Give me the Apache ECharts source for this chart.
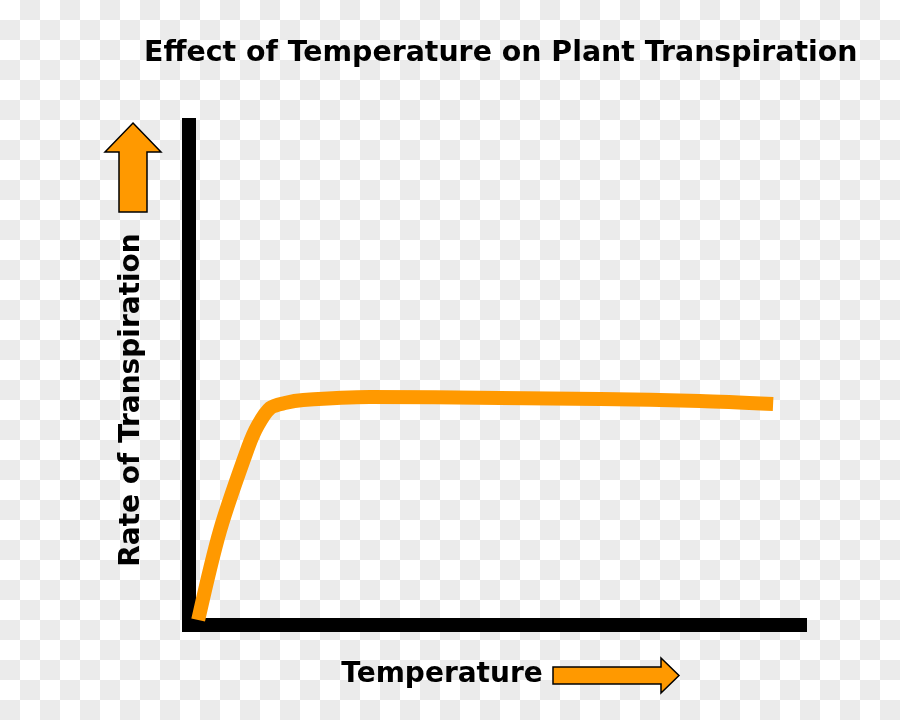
<!DOCTYPE html>
<html><head><meta charset="utf-8">
<script src="https://cdn.jsdelivr.net/npm/echarts@6/dist/echarts.min.js"></script>
<style>html,body{margin:0;padding:0}#c{width:900px;height:720px;background-image:conic-gradient(#ebebeb 0 25%,#fff 0 50%,#ebebeb 0 75%,#fff 0);background-size:40px 40px;}</style>
</head><body><div id="c"></div>
<script>
const chartTitle = 'Effect of Temperature on Plant Transpiration';
const xName = 'Temperature';
const yName = 'Rate of Transpiration';
const temperature = [1.5, 5.1, 9.7, 11.3, 13.3, 15.7, 18.7, 29.6, 50.9, 67.3, 83.6, 95.6];
const transpiration = [1, 19.0, 35.6, 40.0, 43.4, 44.4, 45.0, 45.6, 45.4, 45.2, 44.8, 44.2];

const FONT = "'Comic Sans MS', 'DejaVu Sans', sans-serif";
const ORANGE = '#ff9900';
const chart = echarts.init(document.getElementById('c'), null, {renderer: 'canvas'});
const axisCommon = {
  type: 'value', min: 0, max: 100,
  axisLine: {show: true, lineStyle: {color: '#000', width: 14, cap: 'square'}},
  axisTick: {show: false}, axisLabel: {show: false}, splitLine: {show: false}
};
chart.setOption({
  backgroundColor: 'transparent',
  animation: false,
  title: {
    text: chartTitle, left: 139, top: 35,
    textStyle: {fontFamily: FONT, fontWeight: 'bold', fontSize: 28.4, color: '#000'}
  },
  grid: {left: 189, right: 100, top: 125, bottom: 95},
  xAxis: axisCommon,
  yAxis: axisCommon,
  series: [{
    type: 'line',
    data: temperature.map((t, i) => [t, transpiration[i]]),
    smooth: 0.3,
    showSymbol: false,
    lineStyle: {color: ORANGE, width: 14, cap: 'butt', join: 'round'},
    z: 1
  }],
  graphic: [
    {type: 'polygon', shape: {points: [[133,123],[161,152],[147,152],[147,212],[119,212],[119,152],[105,152]]},
     style: {fill: ORANGE, stroke: '#000', lineWidth: 1.5}},
    {type: 'polygon', shape: {points: [[553,667],[661,667],[661,658],[679,675.5],[661,693],[661,684],[553,684]]},
     style: {fill: ORANGE, stroke: '#000', lineWidth: 1.5}},
    {type: 'text', x: 442, y: 675,
     style: {text: xName, fontFamily: FONT, fontWeight: 'bold', fontSize: 28, fill: '#000', align: 'center', verticalAlign: 'middle'}},
    {type: 'text', x: 132, y: 400, rotation: Math.PI / 2,
     style: {text: yName, fontFamily: FONT, fontWeight: 'bold', fontSize: 28, fill: '#000', align: 'center', verticalAlign: 'middle'}}
  ]
});
</script></body></html>
